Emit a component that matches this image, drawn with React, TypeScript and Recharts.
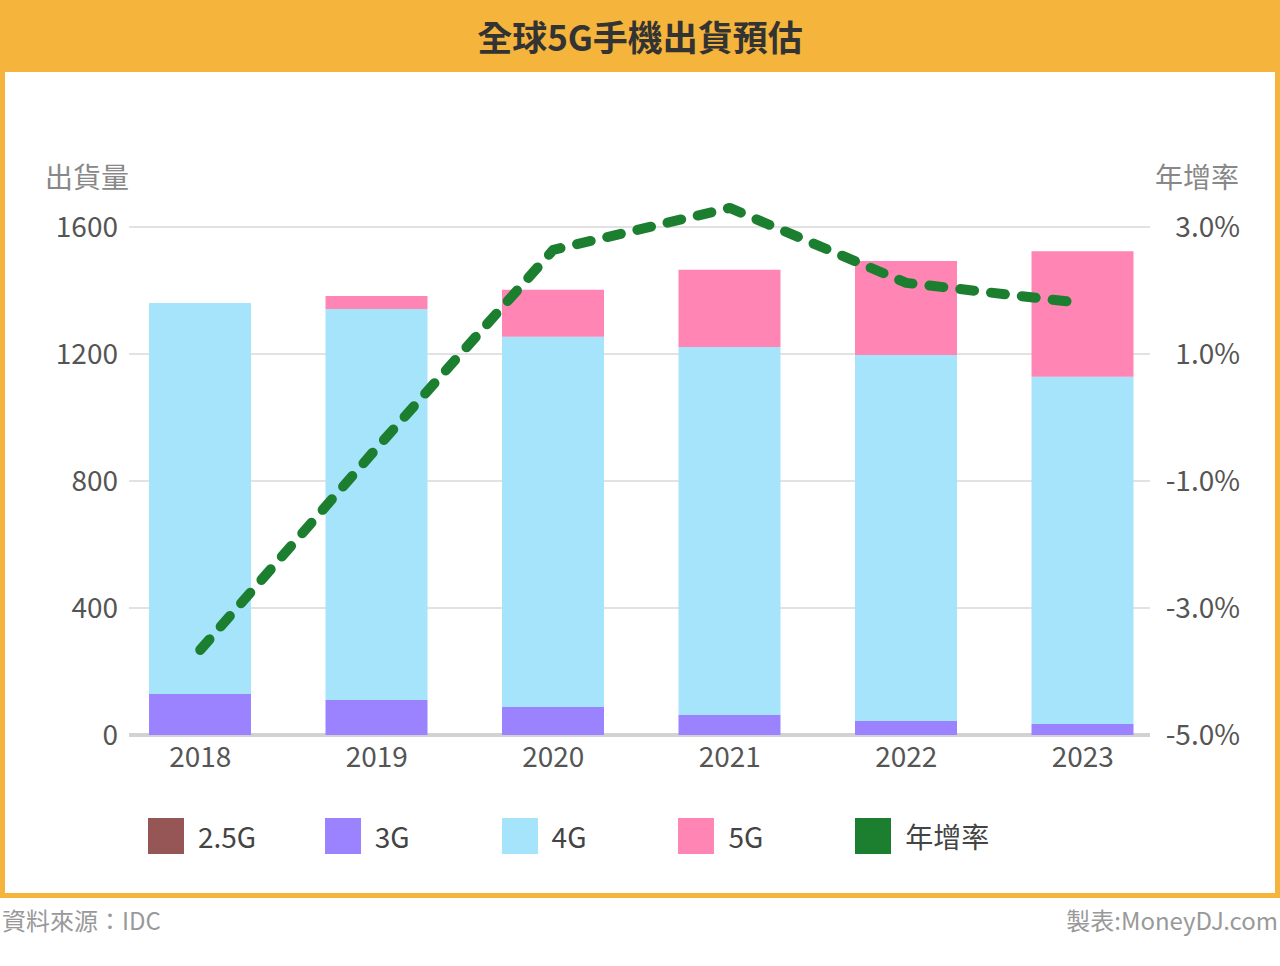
import { Bar, CartesianGrid, ComposedChart, Line, XAxis, YAxis } from "recharts"

const years = ["2018", "2019", "2020", "2021", "2022", "2023"]
const g25 = [0, 0, 0, 0, 0, 0]
const g3 = [129, 110, 88, 63, 44, 35]
const g4 = [1232, 1232, 1166, 1159, 1153, 1093]
const g5 = [0, 41, 148, 243, 296, 396]
const growth = [-3.66, -0.48, 2.64, 3.3, 2.12, 1.8]

const leftTicks = [0, 400, 800, 1200, 1600]
const rightTicks = [-5, -3, -1, 1, 3]

const legendNames = ["2.5G", "3G", "4G", "5G", "年增率"]
const COLORS = ["#975656", "#9B82FF", "#A6E4FC", "#FF85B4", "#1B7F2F"]

const data = years.map((year, i) => ({
  year,
  g25: g25[i],
  g3: g3[i],
  g4: g4[i],
  g5: g5[i],
  growth: growth[i],
}))

const FONT = '"Noto Sans CJK TC", "Noto Sans", sans-serif'
const ORANGE = "#F5B43B"
const PLOT_TOP = 91.5
const PLOT_BOTTOM = 735 - 72

function GridLine(props: any) {
  // no line at the padded top of the plot, only at the ticks
  if (props.y1 < PLOT_TOP + 5) return <g key={`h-${props.index}`} />
  const isBase = Math.abs(props.y1 - PLOT_BOTTOM) < 2
  return (
    <line
      key={`h-${props.index}`}
      x1={129}
      x2={1150}
      y1={props.y1}
      y2={props.y2}
      stroke={isBase ? "#d2d2d2" : "#d9d9d9"}
      strokeWidth={isBase ? 4 : 1.5}
    />
  )
}

function LeftTick({ x, y, payload }: any) {
  return (
    <text x={x + 6} y={y} dy="0.35em" textAnchor="end" fontSize={28} fill="#555" fontFamily={FONT}>
      {payload.value}
    </text>
  )
}

function RightTick({ x, y, payload }: any) {
  return (
    <text x={x + 69} y={y} dy="0.35em" textAnchor="end" fontSize={28} fill="#555" fontFamily={FONT}>
      {payload.value.toFixed(1) + "%"}
    </text>
  )
}

function BottomTick({ x, y, payload }: any) {
  return (
    <text x={x} y={y + 22} dy="0.35em" textAnchor="middle" fontSize={28} fill="#555" fontFamily={FONT}>
      {payload.value}
    </text>
  )
}

export default function App() {
  return (
    <div
      style={{
        position: "absolute",
        left: 0,
        top: 0,
        width: 1280,
        height: 966,
        background: "#fff",
        fontFamily: FONT,
      }}
    >
      <div
        style={{
          position: "absolute",
          left: 0,
          top: 0,
          width: 1280,
          height: 898,
          background: ORANGE,
        }}
      />
      <div
        style={{
          position: "absolute",
          left: 5,
          top: 72,
          width: 1270,
          height: 821,
          background: "#fff",
        }}
      />
      <div
        style={{
          position: "absolute",
          left: 0,
          top: 0,
          width: 1280,
          height: 72,
          lineHeight: "72px",
          textAlign: "center",
          fontSize: 35,
          fontWeight: 700,
          color: "#333",
        }}
      >
        全球5G手機出貨預估
      </div>

      <div style={{ position: "absolute", left: 45, top: 158, fontSize: 28, color: "#888", lineHeight: "36px" }}>
        出貨量
      </div>
      <div style={{ position: "absolute", left: 1155, top: 158, fontSize: 28, color: "#888", lineHeight: "36px" }}>
        年增率
      </div>

      <div style={{ position: "absolute", left: 0, top: 72 }}>
        <ComposedChart
          width={1280}
          height={720}
          data={data}
          margin={{ top: PLOT_TOP, right: 0, bottom: 27, left: 0 }}
        >
          <CartesianGrid yAxisId="left" vertical={false} horizontal={GridLine} />
          <XAxis
            dataKey="year"
            height={30}
            axisLine={false}
            tickLine={false}
            tickSize={0}
            tickMargin={0}
            tick={BottomTick}
            interval={0}
          />
          <YAxis
            yAxisId="left"
            width={112}
            domain={[0, 1800]}
            ticks={leftTicks}
            axisLine={false}
            tickLine={false}
            tickSize={0}
            tickMargin={0}
            tick={LeftTick}
            interval={0}
          />
          <YAxis
            yAxisId="right"
            orientation="right"
            width={109}
            domain={[-5, 4]}
            ticks={rightTicks}
            axisLine={false}
            tickLine={false}
            tickSize={0}
            tickMargin={0}
            tick={RightTick}
            interval={0}
          />
          <Bar yAxisId="left" dataKey="g25" stackId="a" fill={COLORS[0]} barSize={102} isAnimationActive={false} />
          <Bar yAxisId="left" dataKey="g3" stackId="a" fill={COLORS[1]} barSize={102} isAnimationActive={false} />
          <Bar yAxisId="left" dataKey="g4" stackId="a" fill={COLORS[2]} barSize={102} isAnimationActive={false} />
          <Bar yAxisId="left" dataKey="g5" stackId="a" fill={COLORS[3]} barSize={102} isAnimationActive={false} />
          <Line
            yAxisId="right"
            type="linear"
            dataKey="growth"
            stroke={COLORS[4]}
            strokeWidth={10}
            strokeDasharray="14 17"
            strokeLinecap="round"
            strokeLinejoin="round"
            dot={false}
            activeDot={false}
            isAnimationActive={false}
          />
        </ComposedChart>
      </div>

      {legendNames.map((name, i) => (
        <div key={name} style={{ position: "absolute", left: 148 + i * 176.8, top: 818, height: 36 }}>
          <div style={{ position: "absolute", left: 0, top: 0, width: 36, height: 36, background: COLORS[i] }} />
          <div
            style={{
              position: "absolute",
              left: 50,
              top: 0,
              lineHeight: "36px",
              fontSize: 28,
              color: "#444",
              whiteSpace: "nowrap",
            }}
          >
            {name}
          </div>
        </div>
      ))}

      <div style={{ position: "absolute", left: 2, top: 904, fontSize: 24, color: "#999", lineHeight: "32px" }}>
        資料來源：IDC
      </div>
      <div
        style={{
          position: "absolute",
          right: 2,
          top: 904,
          fontSize: 24,
          color: "#999",
          lineHeight: "32px",
          whiteSpace: "nowrap",
        }}
      >
        製表:MoneyDJ.com
      </div>
    </div>
  )
}
